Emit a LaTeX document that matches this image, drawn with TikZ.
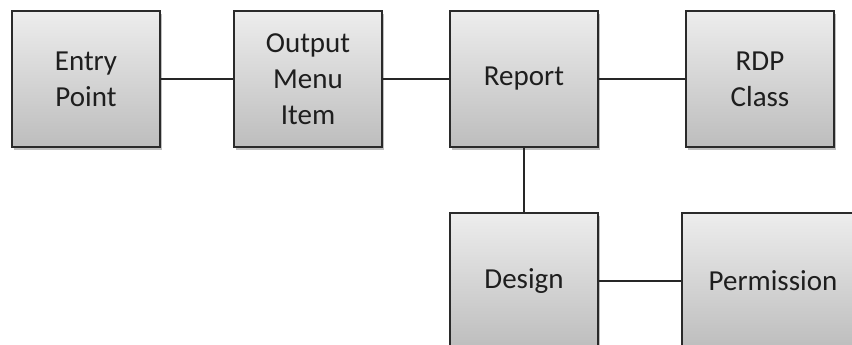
\documentclass[tikz,border=0pt]{standalone}
\usepackage{fontspec}
\setmainfont{Carlito}
\usetikzlibrary{shadows}
\definecolor{boxtop}{HTML}{EDEDED}
\definecolor{boxbot}{HTML}{BDBDBD}
\definecolor{edgecol}{HTML}{2A2A2A}
\definecolor{txtcol}{HTML}{1E1E1E}
\begin{document}
\begin{tikzpicture}[x=1pt,y=-1pt,
  entity/.style={draw=edgecol, line width=2pt, top color=boxtop, bottom color=boxbot,
    minimum width=148pt, minimum height=136pt, align=center, text=txtcol,
    font=\fontsize{29}{36}\selectfont, inner sep=0pt,
    drop shadow={shadow xshift=2pt, shadow yshift=-3pt, opacity=0.25, fill=black}},
  link/.style={draw=black!85, line width=1.8pt}]
\useasboundingbox (0,0) rectangle (852,345);
\begin{scope}
\clip (0,0) rectangle (852,345);
\node[entity] (entry) at (86,79) {Entry\\Point};
\node[entity] (menu) at (308,79) {Output\\Menu\\Item};
\node[entity] (report) at (524,79) {Report};
\node[entity] (rdp) at (760,79) {RDP\\Class};
\node[entity] (design) at (524,281) {Design};
\node[entity, minimum width=182pt] (perm) at (773,281) {Permission};
\draw[link] (entry) -- (menu);
\draw[link] (menu) -- (report);
\draw[link] (report) -- (rdp);
\draw[link] (report) -- (design);
\draw[link] (design) -- (perm);
\end{scope}
\end{tikzpicture}
\end{document}
